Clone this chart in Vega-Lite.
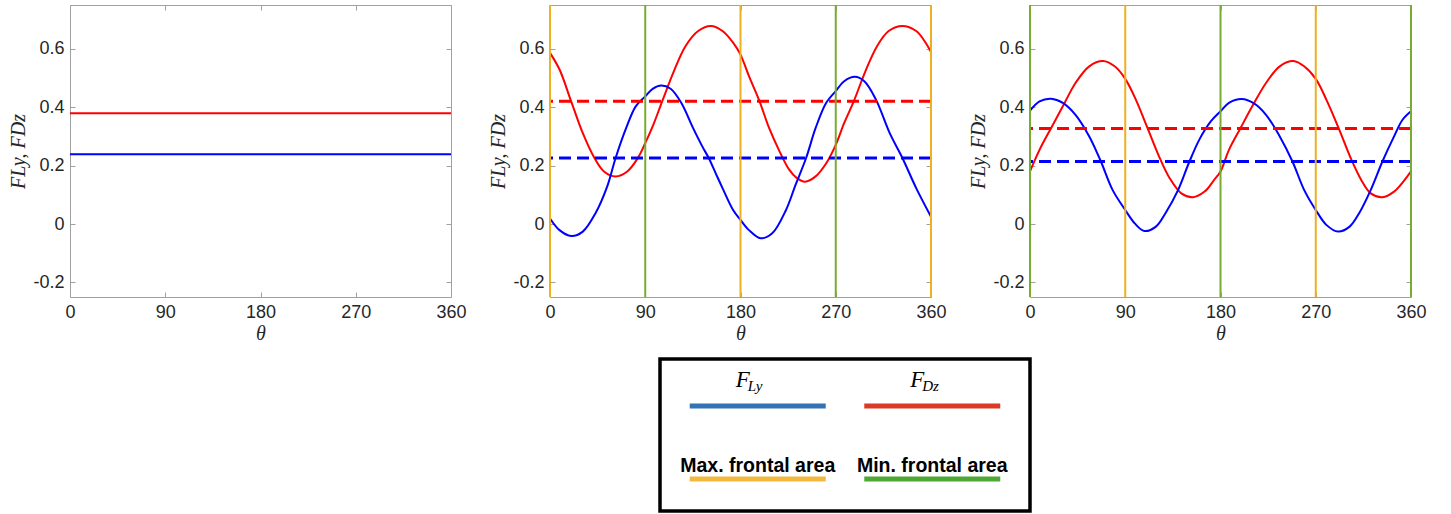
{
  "$schema": "https://vega.github.io/schema/vega-lite/v6.json",
  "background": "white",
  "padding": {"left": 8, "top": 3, "right": 5, "bottom": 0},
  "config": {
    "view": {"stroke": "#a0a0a0", "strokeWidth": 1},
    "axis": {
      "domain": false, "grid": false, "ticks": true, "tickSize": -5, "tickColor": "#a0a0a0",
      "labelPadding": 11, "labelFont": "Liberation Sans", "labelFontSize": 18, "labelColor": "#262626",
      "titleFont": "Liberation Serif", "titleFontStyle": "italic", "titleFontWeight": "normal",
      "titleFontSize": 20, "titleColor": "#262626", "titlePadding": 4
    },
    "axisX": {"titlePadding": 2}
  },
  "datasets": {
    "curves": [
      {"panel": "p1", "series": "F_Ly", "theta": 0, "value": 0.239},
      {"panel": "p1", "series": "F_Ly", "theta": 360, "value": 0.239},
      {"panel": "p1", "series": "F_Dz", "theta": 0, "value": 0.379},
      {"panel": "p1", "series": "F_Dz", "theta": 360, "value": 0.379},

      {"panel": "p2", "series": "F_Dz", "theta": 0, "value": 0.586},
      {"panel": "p2", "series": "F_Dz", "theta": 9, "value": 0.529},
      {"panel": "p2", "series": "F_Dz", "theta": 20, "value": 0.42},
      {"panel": "p2", "series": "F_Dz", "theta": 31, "value": 0.311},
      {"panel": "p2", "series": "F_Dz", "theta": 42, "value": 0.226},
      {"panel": "p2", "series": "F_Dz", "theta": 51, "value": 0.18},
      {"panel": "p2", "series": "F_Dz", "theta": 62, "value": 0.163},
      {"panel": "p2", "series": "F_Dz", "theta": 73, "value": 0.18},
      {"panel": "p2", "series": "F_Dz", "theta": 83, "value": 0.226},
      {"panel": "p2", "series": "F_Dz", "theta": 90, "value": 0.277},
      {"panel": "p2", "series": "F_Dz", "theta": 97, "value": 0.334},
      {"panel": "p2", "series": "F_Dz", "theta": 106, "value": 0.42},
      {"panel": "p2", "series": "F_Dz", "theta": 117, "value": 0.523},
      {"panel": "p2", "series": "F_Dz", "theta": 128, "value": 0.609},
      {"panel": "p2", "series": "F_Dz", "theta": 140, "value": 0.661},
      {"panel": "p2", "series": "F_Dz", "theta": 152, "value": 0.678},
      {"panel": "p2", "series": "F_Dz", "theta": 163, "value": 0.661},
      {"panel": "p2", "series": "F_Dz", "theta": 173, "value": 0.621},
      {"panel": "p2", "series": "F_Dz", "theta": 180, "value": 0.58},
      {"panel": "p2", "series": "F_Dz", "theta": 188, "value": 0.506},
      {"panel": "p2", "series": "F_Dz", "theta": 198, "value": 0.42},
      {"panel": "p2", "series": "F_Dz", "theta": 207, "value": 0.329},
      {"panel": "p2", "series": "F_Dz", "theta": 217, "value": 0.248},
      {"panel": "p2", "series": "F_Dz", "theta": 226, "value": 0.186},
      {"panel": "p2", "series": "F_Dz", "theta": 233, "value": 0.158},
      {"panel": "p2", "series": "F_Dz", "theta": 241, "value": 0.145},
      {"panel": "p2", "series": "F_Dz", "theta": 251, "value": 0.163},
      {"panel": "p2", "series": "F_Dz", "theta": 261, "value": 0.208},
      {"panel": "p2", "series": "F_Dz", "theta": 270, "value": 0.271},
      {"panel": "p2", "series": "F_Dz", "theta": 278, "value": 0.346},
      {"panel": "p2", "series": "F_Dz", "theta": 287, "value": 0.42},
      {"panel": "p2", "series": "F_Dz", "theta": 298, "value": 0.523},
      {"panel": "p2", "series": "F_Dz", "theta": 309, "value": 0.609},
      {"panel": "p2", "series": "F_Dz", "theta": 320, "value": 0.661},
      {"panel": "p2", "series": "F_Dz", "theta": 333, "value": 0.678},
      {"panel": "p2", "series": "F_Dz", "theta": 346, "value": 0.661},
      {"panel": "p2", "series": "F_Dz", "theta": 354, "value": 0.626},
      {"panel": "p2", "series": "F_Dz", "theta": 360, "value": 0.589},

      {"panel": "p2", "series": "F_Ly", "theta": 0, "value": 0.019},
      {"panel": "p2", "series": "F_Ly", "theta": 9, "value": -0.021},
      {"panel": "p2", "series": "F_Ly", "theta": 20, "value": -0.041},
      {"panel": "p2", "series": "F_Ly", "theta": 31, "value": -0.026},
      {"panel": "p2", "series": "F_Ly", "theta": 43, "value": 0.037},
      {"panel": "p2", "series": "F_Ly", "theta": 54, "value": 0.128},
      {"panel": "p2", "series": "F_Ly", "theta": 62, "value": 0.226},
      {"panel": "p2", "series": "F_Ly", "theta": 72, "value": 0.329},
      {"panel": "p2", "series": "F_Ly", "theta": 81, "value": 0.403},
      {"panel": "p2", "series": "F_Ly", "theta": 90, "value": 0.437},
      {"panel": "p2", "series": "F_Ly", "theta": 97, "value": 0.463},
      {"panel": "p2", "series": "F_Ly", "theta": 105, "value": 0.474},
      {"panel": "p2", "series": "F_Ly", "theta": 114, "value": 0.463},
      {"panel": "p2", "series": "F_Ly", "theta": 124, "value": 0.415},
      {"panel": "p2", "series": "F_Ly", "theta": 135, "value": 0.33},
      {"panel": "p2", "series": "F_Ly", "theta": 144, "value": 0.265},
      {"panel": "p2", "series": "F_Ly", "theta": 150, "value": 0.226},
      {"panel": "p2", "series": "F_Ly", "theta": 157, "value": 0.17},
      {"panel": "p2", "series": "F_Ly", "theta": 163, "value": 0.123},
      {"panel": "p2", "series": "F_Ly", "theta": 173, "value": 0.048},
      {"panel": "p2", "series": "F_Ly", "theta": 180, "value": 0.014},
      {"panel": "p2", "series": "F_Ly", "theta": 188, "value": -0.021},
      {"panel": "p2", "series": "F_Ly", "theta": 199, "value": -0.049},
      {"panel": "p2", "series": "F_Ly", "theta": 210, "value": -0.032},
      {"panel": "p2", "series": "F_Ly", "theta": 223, "value": 0.048},
      {"panel": "p2", "series": "F_Ly", "theta": 232, "value": 0.134},
      {"panel": "p2", "series": "F_Ly", "theta": 242, "value": 0.226},
      {"panel": "p2", "series": "F_Ly", "theta": 251, "value": 0.329},
      {"panel": "p2", "series": "F_Ly", "theta": 261, "value": 0.415},
      {"panel": "p2", "series": "F_Ly", "theta": 270, "value": 0.455},
      {"panel": "p2", "series": "F_Ly", "theta": 278, "value": 0.489},
      {"panel": "p2", "series": "F_Ly", "theta": 288, "value": 0.504},
      {"panel": "p2", "series": "F_Ly", "theta": 297, "value": 0.489},
      {"panel": "p2", "series": "F_Ly", "theta": 308, "value": 0.426},
      {"panel": "p2", "series": "F_Ly", "theta": 321, "value": 0.311},
      {"panel": "p2", "series": "F_Ly", "theta": 333, "value": 0.226},
      {"panel": "p2", "series": "F_Ly", "theta": 346, "value": 0.123},
      {"panel": "p2", "series": "F_Ly", "theta": 360, "value": 0.025},

      {"panel": "p3", "series": "F_Dz", "theta": 0, "value": 0.18},
      {"panel": "p3", "series": "F_Dz", "theta": 9, "value": 0.254},
      {"panel": "p3", "series": "F_Dz", "theta": 20, "value": 0.329},
      {"panel": "p3", "series": "F_Dz", "theta": 31, "value": 0.403},
      {"panel": "p3", "series": "F_Dz", "theta": 43, "value": 0.483},
      {"panel": "p3", "series": "F_Dz", "theta": 56, "value": 0.54},
      {"panel": "p3", "series": "F_Dz", "theta": 69, "value": 0.558},
      {"panel": "p3", "series": "F_Dz", "theta": 80, "value": 0.54},
      {"panel": "p3", "series": "F_Dz", "theta": 90, "value": 0.497},
      {"panel": "p3", "series": "F_Dz", "theta": 100, "value": 0.426},
      {"panel": "p3", "series": "F_Dz", "theta": 111, "value": 0.329},
      {"panel": "p3", "series": "F_Dz", "theta": 122, "value": 0.231},
      {"panel": "p3", "series": "F_Dz", "theta": 132, "value": 0.157},
      {"panel": "p3", "series": "F_Dz", "theta": 143, "value": 0.105},
      {"panel": "p3", "series": "F_Dz", "theta": 154, "value": 0.092},
      {"panel": "p3", "series": "F_Dz", "theta": 165, "value": 0.111},
      {"panel": "p3", "series": "F_Dz", "theta": 174, "value": 0.151},
      {"panel": "p3", "series": "F_Dz", "theta": 180, "value": 0.18},
      {"panel": "p3", "series": "F_Dz", "theta": 188, "value": 0.254},
      {"panel": "p3", "series": "F_Dz", "theta": 199, "value": 0.329},
      {"panel": "p3", "series": "F_Dz", "theta": 210, "value": 0.403},
      {"panel": "p3", "series": "F_Dz", "theta": 223, "value": 0.483},
      {"panel": "p3", "series": "F_Dz", "theta": 236, "value": 0.54},
      {"panel": "p3", "series": "F_Dz", "theta": 249, "value": 0.558},
      {"panel": "p3", "series": "F_Dz", "theta": 259, "value": 0.54},
      {"panel": "p3", "series": "F_Dz", "theta": 270, "value": 0.497},
      {"panel": "p3", "series": "F_Dz", "theta": 280, "value": 0.426},
      {"panel": "p3", "series": "F_Dz", "theta": 292, "value": 0.325},
      {"panel": "p3", "series": "F_Dz", "theta": 303, "value": 0.226},
      {"panel": "p3", "series": "F_Dz", "theta": 313, "value": 0.151},
      {"panel": "p3", "series": "F_Dz", "theta": 322, "value": 0.105},
      {"panel": "p3", "series": "F_Dz", "theta": 333, "value": 0.092},
      {"panel": "p3", "series": "F_Dz", "theta": 344, "value": 0.111},
      {"panel": "p3", "series": "F_Dz", "theta": 354, "value": 0.151},
      {"panel": "p3", "series": "F_Dz", "theta": 360, "value": 0.18},

      {"panel": "p3", "series": "F_Ly", "theta": 0, "value": 0.388},
      {"panel": "p3", "series": "F_Ly", "theta": 9, "value": 0.42},
      {"panel": "p3", "series": "F_Ly", "theta": 20, "value": 0.429},
      {"panel": "p3", "series": "F_Ly", "theta": 31, "value": 0.415},
      {"panel": "p3", "series": "F_Ly", "theta": 43, "value": 0.374},
      {"panel": "p3", "series": "F_Ly", "theta": 56, "value": 0.3},
      {"panel": "p3", "series": "F_Ly", "theta": 67, "value": 0.214},
      {"panel": "p3", "series": "F_Ly", "theta": 78, "value": 0.117},
      {"panel": "p3", "series": "F_Ly", "theta": 90, "value": 0.048},
      {"panel": "p3", "series": "F_Ly", "theta": 99, "value": 0.002},
      {"panel": "p3", "series": "F_Ly", "theta": 108, "value": -0.024},
      {"panel": "p3", "series": "F_Ly", "theta": 119, "value": -0.009},
      {"panel": "p3", "series": "F_Ly", "theta": 128, "value": 0.037},
      {"panel": "p3", "series": "F_Ly", "theta": 140, "value": 0.117},
      {"panel": "p3", "series": "F_Ly", "theta": 150, "value": 0.208},
      {"panel": "p3", "series": "F_Ly", "theta": 160, "value": 0.289},
      {"panel": "p3", "series": "F_Ly", "theta": 171, "value": 0.352},
      {"panel": "p3", "series": "F_Ly", "theta": 180, "value": 0.386},
      {"panel": "p3", "series": "F_Ly", "theta": 188, "value": 0.415},
      {"panel": "p3", "series": "F_Ly", "theta": 200, "value": 0.428},
      {"panel": "p3", "series": "F_Ly", "theta": 212, "value": 0.412},
      {"panel": "p3", "series": "F_Ly", "theta": 223, "value": 0.374},
      {"panel": "p3", "series": "F_Ly", "theta": 236, "value": 0.3},
      {"panel": "p3", "series": "F_Ly", "theta": 248, "value": 0.214},
      {"panel": "p3", "series": "F_Ly", "theta": 259, "value": 0.117},
      {"panel": "p3", "series": "F_Ly", "theta": 270, "value": 0.048},
      {"panel": "p3", "series": "F_Ly", "theta": 280, "value": -0.003},
      {"panel": "p3", "series": "F_Ly", "theta": 291, "value": -0.026},
      {"panel": "p3", "series": "F_Ly", "theta": 302, "value": -0.009},
      {"panel": "p3", "series": "F_Ly", "theta": 311, "value": 0.037},
      {"panel": "p3", "series": "F_Ly", "theta": 322, "value": 0.117},
      {"panel": "p3", "series": "F_Ly", "theta": 333, "value": 0.214},
      {"panel": "p3", "series": "F_Ly", "theta": 344, "value": 0.3},
      {"panel": "p3", "series": "F_Ly", "theta": 352, "value": 0.357},
      {"panel": "p3", "series": "F_Ly", "theta": 360, "value": 0.386}
    ],
    "means": [
      {"panel": "p2", "series": "F_Dz", "value": 0.42},
      {"panel": "p2", "series": "F_Ly", "value": 0.226},
      {"panel": "p3", "series": "F_Dz", "value": 0.327},
      {"panel": "p3", "series": "F_Ly", "value": 0.214}
    ],
    "markers": [
      {"panel": "p2", "series": "Max. frontal area", "theta": 0},
      {"panel": "p2", "series": "Max. frontal area", "theta": 180},
      {"panel": "p2", "series": "Max. frontal area", "theta": 360},
      {"panel": "p2", "series": "Min. frontal area", "theta": 90},
      {"panel": "p2", "series": "Min. frontal area", "theta": 270},
      {"panel": "p3", "series": "Min. frontal area", "theta": 0},
      {"panel": "p3", "series": "Min. frontal area", "theta": 180},
      {"panel": "p3", "series": "Min. frontal area", "theta": 360},
      {"panel": "p3", "series": "Max. frontal area", "theta": 90},
      {"panel": "p3", "series": "Max. frontal area", "theta": 270}
    ],
    "legend": [
      {"entry": "F_Ly", "group": "Force", "slot": "left", "main": "F", "sub": "Ly"},
      {"entry": "F_Dz", "group": "Force", "slot": "right", "main": "F", "sub": "Dz"},
      {"entry": "Max. frontal area", "group": "Frontal area", "slot": "left", "main": "", "sub": ""},
      {"entry": "Min. frontal area", "group": "Frontal area", "slot": "right", "main": "", "sub": ""}
    ]
  },
  "vconcat": [
    {
      "hconcat": [
        {
          "width": 381, "height": 292,
          "resolve": {"axis": {"x": "independent", "y": "independent"}},
          "layer": [
            {
              "data": {"name": "curves"},
              "transform": [{"filter": "datum.panel === 'p1'"}],
              "mark": {"type": "point", "opacity": 0},
              "encoding": {
                "x": {"field": "theta", "type": "quantitative", "scale": {"domain": [0, 360], "nice": false, "zero": false}, "axis": {"orient": "top", "values": [0, 90, 180, 270, 360], "labels": false, "title": null}},
                "y": {"field": "value", "type": "quantitative", "scale": {"domain": [-0.25, 0.75], "nice": false, "zero": false}, "axis": {"orient": "right", "values": [-0.2, 0, 0.2, 0.4, 0.6], "labels": false, "title": null}}
              }
            },
            {
              "data": {"name": "curves"},
              "transform": [{"filter": "datum.panel === 'p1'"}],
              "mark": {"type": "line", "strokeWidth": 2},
              "encoding": {
                "x": {"field": "theta", "type": "quantitative", "scale": {"domain": [0, 360], "nice": false, "zero": false}, "axis": {"orient": "bottom", "values": [0, 90, 180, 270, 360], "labelFlush": false, "title": "θ"}},
                "y": {"field": "value", "type": "quantitative", "scale": {"domain": [-0.25, 0.75], "nice": false, "zero": false}, "axis": {"orient": "left", "values": [-0.2, 0, 0.2, 0.4, 0.6], "labelExpr": "toString(datum.value)", "title": "FLy, FDz"}},
                "color": {"field": "series", "type": "nominal", "scale": {"domain": ["F_Ly", "F_Dz", "Max. frontal area", "Min. frontal area"], "range": ["#0000ff", "#ff0000", "#edb120", "#77ac30"]}, "legend": null},
                "order": {"field": "theta", "type": "quantitative"}
              }
            }
          ]
        },
        {
          "width": 381, "height": 292,
          "resolve": {"axis": {"x": "independent", "y": "independent"}},
          "layer": [
            {
              "data": {"name": "curves"},
              "transform": [{"filter": "datum.panel === 'p2'"}],
              "mark": {"type": "point", "opacity": 0},
              "encoding": {
                "x": {"field": "theta", "type": "quantitative", "scale": {"domain": [0, 360], "nice": false, "zero": false}, "axis": {"orient": "top", "values": [0, 90, 180, 270, 360], "labels": false, "title": null}},
                "y": {"field": "value", "type": "quantitative", "scale": {"domain": [-0.25, 0.75], "nice": false, "zero": false}, "axis": {"orient": "right", "values": [-0.2, 0, 0.2, 0.4, 0.6], "labels": false, "title": null}}
              }
            },
            {
              "data": {"name": "curves"},
              "transform": [{"filter": "datum.panel === 'p2'"}],
              "mark": {"type": "line", "strokeWidth": 2, "interpolate": "catmull-rom"},
              "encoding": {
                "x": {"field": "theta", "type": "quantitative", "scale": {"domain": [0, 360], "nice": false, "zero": false}, "axis": {"orient": "bottom", "values": [0, 90, 180, 270, 360], "labelFlush": false, "title": "θ"}},
                "y": {"field": "value", "type": "quantitative", "scale": {"domain": [-0.25, 0.75], "nice": false, "zero": false}, "axis": {"orient": "left", "values": [-0.2, 0, 0.2, 0.4, 0.6], "labelExpr": "toString(datum.value)", "title": "FLy, FDz"}},
                "color": {"field": "series", "type": "nominal", "scale": {"domain": ["F_Ly", "F_Dz", "Max. frontal area", "Min. frontal area"], "range": ["#0000ff", "#ff0000", "#edb120", "#77ac30"]}, "legend": null},
                "order": {"field": "theta", "type": "quantitative"}
              }
            },
            {
              "data": {"name": "means"},
              "transform": [{"filter": "datum.panel === 'p2'"}],
              "mark": {"type": "rule", "strokeWidth": 3, "strokeDash": [12, 6]},
              "encoding": {
                "y": {"field": "value", "type": "quantitative", "axis": null},
                "color": {"field": "series", "type": "nominal", "legend": null}
              }
            },
            {
              "data": {"name": "markers"},
              "transform": [{"filter": "datum.panel === 'p2'"}],
              "mark": {"type": "rule", "strokeWidth": 2},
              "encoding": {
                "x": {"field": "theta", "type": "quantitative", "axis": null},
                "color": {"field": "series", "type": "nominal", "legend": null}
              }
            }
          ]
        },
        {
          "width": 381, "height": 292,
          "resolve": {"axis": {"x": "independent", "y": "independent"}},
          "layer": [
            {
              "data": {"name": "curves"},
              "transform": [{"filter": "datum.panel === 'p3'"}],
              "mark": {"type": "point", "opacity": 0},
              "encoding": {
                "x": {"field": "theta", "type": "quantitative", "scale": {"domain": [0, 360], "nice": false, "zero": false}, "axis": {"orient": "top", "values": [0, 90, 180, 270, 360], "labels": false, "title": null}},
                "y": {"field": "value", "type": "quantitative", "scale": {"domain": [-0.25, 0.75], "nice": false, "zero": false}, "axis": {"orient": "right", "values": [-0.2, 0, 0.2, 0.4, 0.6], "labels": false, "title": null}}
              }
            },
            {
              "data": {"name": "curves"},
              "transform": [{"filter": "datum.panel === 'p3'"}],
              "mark": {"type": "line", "strokeWidth": 2, "interpolate": "catmull-rom"},
              "encoding": {
                "x": {"field": "theta", "type": "quantitative", "scale": {"domain": [0, 360], "nice": false, "zero": false}, "axis": {"orient": "bottom", "values": [0, 90, 180, 270, 360], "labelFlush": false, "title": "θ"}},
                "y": {"field": "value", "type": "quantitative", "scale": {"domain": [-0.25, 0.75], "nice": false, "zero": false}, "axis": {"orient": "left", "values": [-0.2, 0, 0.2, 0.4, 0.6], "labelExpr": "toString(datum.value)", "title": "FLy, FDz"}},
                "color": {"field": "series", "type": "nominal", "scale": {"domain": ["F_Ly", "F_Dz", "Max. frontal area", "Min. frontal area"], "range": ["#0000ff", "#ff0000", "#edb120", "#77ac30"]}, "legend": null},
                "order": {"field": "theta", "type": "quantitative"}
              }
            },
            {
              "data": {"name": "means"},
              "transform": [{"filter": "datum.panel === 'p3'"}],
              "mark": {"type": "rule", "strokeWidth": 3, "strokeDash": [12, 6]},
              "encoding": {
                "y": {"field": "value", "type": "quantitative", "axis": null},
                "color": {"field": "series", "type": "nominal", "legend": null}
              }
            },
            {
              "data": {"name": "markers"},
              "transform": [{"filter": "datum.panel === 'p3'"}],
              "mark": {"type": "rule", "strokeWidth": 2},
              "encoding": {
                "x": {"field": "theta", "type": "quantitative", "axis": null},
                "color": {"field": "series", "type": "nominal", "legend": null}
              }
            }
          ]
        }
      ],
      "spacing": 99,
      "bounds": "flush"
    },
    {
      "hconcat": [
        {
          "width": 590, "height": 152,
          "view": {"stroke": null},
          "data": {"values": [{"blank": 1}]},
          "mark": {"type": "point", "opacity": 0},
          "encoding": {}
        },
        {
          "width": 370, "height": 152,
          "view": {"stroke": "black", "strokeWidth": 3.5},
          "data": {"name": "legend"},
          "encoding": {
            "x": {"field": "slot", "type": "ordinal", "scale": {"type": "point", "domain": ["left", "right"], "padding": 0.56}, "axis": null},
            "y": {"field": "group", "type": "ordinal", "scale": {"type": "point", "domain": ["Force", "Frontal area"], "range": [47, 120], "padding": 0}, "axis": null}
          },
          "layer": [
            {
              "mark": {"type": "tick", "orient": "horizontal", "size": 136, "thickness": 5, "opacity": 1},
              "encoding": {
                "color": {"field": "entry", "type": "nominal", "scale": {"domain": ["F_Ly", "F_Dz", "Max. frontal area", "Min. frontal area"], "range": ["#3272b5", "#db3b26", "#f2b93f", "#4ea934"]}, "legend": null}
              }
            },
            {
              "transform": [{"filter": "datum.group === 'Force'"}],
              "mark": {"type": "text", "align": "right", "baseline": "alphabetic", "dx": -8, "dy": -19, "font": "Liberation Serif", "fontStyle": "italic", "fontSize": 23, "color": "black"},
              "encoding": {"text": {"field": "main"}}
            },
            {
              "transform": [{"filter": "datum.group === 'Force'"}],
              "mark": {"type": "text", "align": "left", "baseline": "alphabetic", "dx": -10, "dy": -15, "font": "Liberation Serif", "fontStyle": "italic", "fontSize": 15, "color": "black"},
              "encoding": {"text": {"field": "sub"}}
            },
            {
              "transform": [{"filter": "datum.group === 'Frontal area'"}],
              "mark": {"type": "text", "align": "center", "baseline": "alphabetic", "dy": -7, "font": "Liberation Sans", "fontWeight": "bold", "fontSize": 19.5, "color": "black"},
              "encoding": {"text": {"field": "entry"}}
            }
          ]
        }
      ],
      "spacing": 0,
      "bounds": "flush"
    }
  ],
  "spacing": 354,
  "bounds": "flush",
  "resolve": {"scale": {"color": "independent"}}
}
